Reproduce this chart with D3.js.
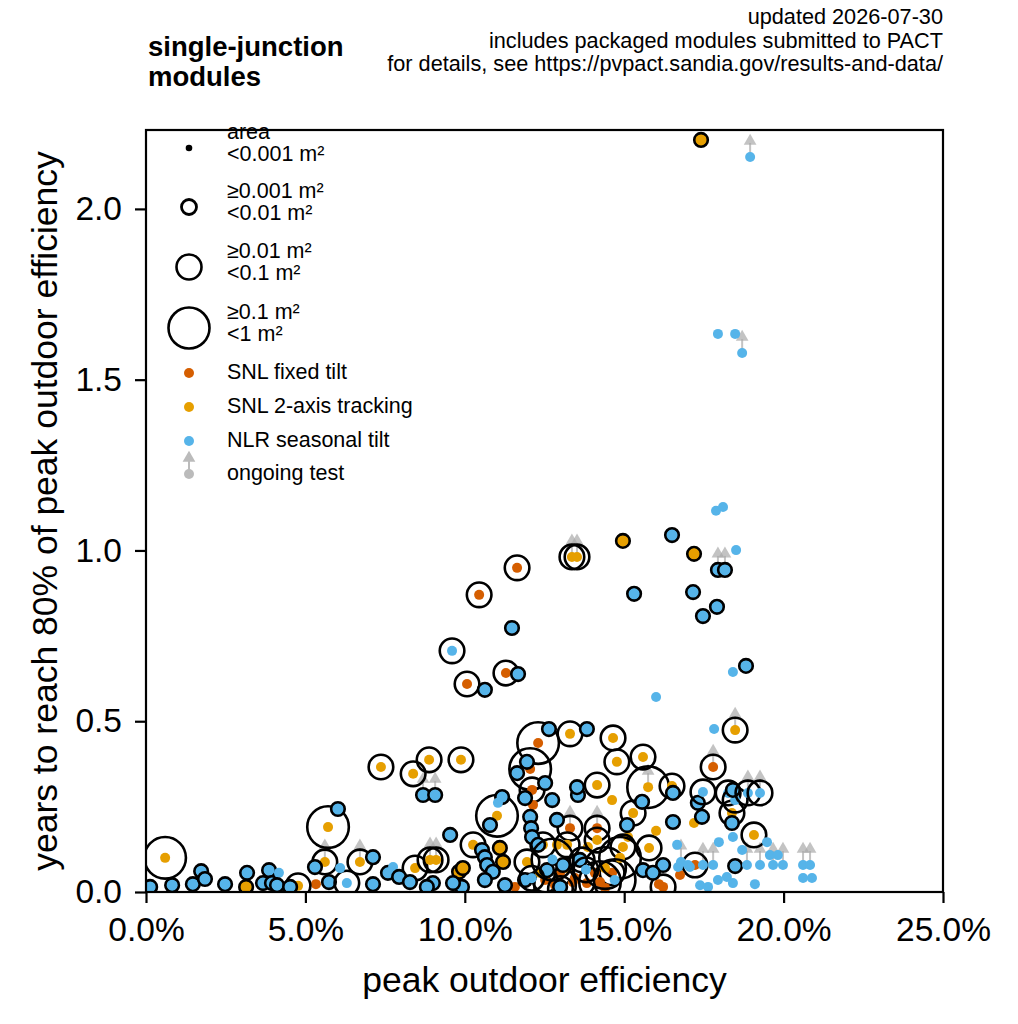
<!DOCTYPE html>
<html>
<head>
<meta charset="utf-8">
<script src="https://cdn.jsdelivr.net/npm/d3@7"></script>
<style>
  body { margin: 0; background: #fff; }
  text { font-family: "Liberation Sans", Arial, sans-serif; fill: #000; }
</style>
</head>
<body>
<script>
// sites and colours
const sites = ["SNL fixed tilt", "SNL 2-axis tracking", "NLR seasonal tilt"];
const siteColors = ["#D55E00", "#E69F00", "#56B4E9"];

// area classes for the ring legend
const areaLabels = [
  ["area", "<0.001 m²"],
  ["≥0.001 m²", "<0.01 m²"],
  ["≥0.01 m²", "<0.1 m²"],
  ["≥0.1 m²", "<1 m²"]
];

const xTicks = [0, 5, 10, 15, 20, 25];
const yTicks = [0, 0.5, 1.0, 1.5, 2.0];

const titleLines = ["single-junction", "modules"];
const notes = [
  "updated 2026-07-30",
  "includes packaged modules submitted to PACT",
  "for details, see https://pvpact.sandia.gov/results-and-data/"
];

// [peak efficiency %, years to 80%, area class, ongoing]
const fixedTilt = [
  [11.64, 0.949, 2, 0], [10.45, 0.870, 2, 0], [11.29, 0.641, 2, 0], [10.07, 0.609, 2, 0],
  [12.30, 0.436, 3, 0], [12.05, 0.360, 3, 0], [12.11, 0.299, 2, 0], [12.14, 0.255, 0, 0],
  [17.79, 0.366, 2, 1], [13.30, 0.187, 2, 1], [14.15, 0.187, 2, 1], [17.22, 0.079, 2, 0],
  [16.75, 0.050, 0, 0], [16.22, 0.015, 2, 0], [14.62, 0.056, 2, 0], [14.08, 0.056, 0, 0],
  [5.33, 0.023, 0, 0], [11.57, 0.015, 0, 0], [12.99, 0.056, 2, 0], [13.39, 0.029, 0, 0],
  [13.83, 0.026, 0, 0], [12.52, 0.035, 2, 0], [13.46, 0.041, 3, 0], [14.24, 0.029, 3, 0],
  [12.83, 0.020, 3, 0], [16.09, 0.023, 0, 0], [13.00, 0.010, 2, 0], [14.40, 0.012, 0, 0]
];

const tracking = [
  [17.41, 2.202, 1, 0], [14.96, 1.028, 1, 0], [17.19, 0.990, 1, 0], [13.36, 0.981, 2, 1],
  [13.52, 0.981, 2, 1], [13.30, 0.463, 2, 0], [14.65, 0.451, 2, 0], [14.77, 0.381, 2, 0],
  [15.59, 0.395, 2, 0], [18.48, 0.474, 2, 1], [7.37, 0.366, 2, 0], [8.38, 0.346, 2, 0],
  [8.88, 0.387, 2, 0], [9.88, 0.387, 2, 0], [0.60, 0.100, 3, 0], [5.71, 0.190, 3, 0],
  [3.14, 0.015, 1, 0], [4.77, 0.018, 2, 0], [5.61, 0.088, 2, 1], [6.71, 0.088, 2, 1],
  [8.44, 0.070, 2, 0], [8.91, 0.094, 2, 1], [9.10, 0.094, 2, 1], [9.82, 0.059, 1, 0],
  [10.26, 0.138, 2, 0], [9.94, 0.070, 1, 0], [11.01, 0.223, 3, 0], [11.10, 0.129, 1, 0],
  [11.20, 0.088, 1, 0], [12.45, 0.138, 2, 0], [12.89, 0.138, 0, 0], [13.21, 0.138, 2, 0],
  [13.86, 0.132, 0, 0], [14.15, 0.152, 2, 0], [14.15, 0.313, 2, 0], [14.62, 0.269, 0, 0],
  [15.28, 0.231, 2, 0], [15.12, 0.161, 0, 0], [14.96, 0.132, 2, 0], [15.78, 0.129, 2, 0],
  [16.00, 0.179, 0, 0], [17.19, 0.202, 0, 0], [15.75, 0.307, 3, 1], [16.50, 0.310, 2, 0],
  [18.38, 0.231, 2, 0], [19.07, 0.167, 2, 0], [13.21, 0.070, 0, 0], [12.36, 0.056, 0, 0],
  [14.40, 0.070, 3, 0], [14.87, 0.100, 3, 0], [11.95, 0.088, 2, 0], [13.68, 0.094, 2, 0]
];

const seasonal = [
  [18.95, 2.152, 0, 1], [17.94, 1.634, 0, 0], [18.48, 1.634, 0, 0], [18.70, 1.578, 0, 1],
  [17.88, 1.116, 0, 0], [18.10, 1.127, 0, 0], [16.50, 1.045, 1, 0], [18.51, 1.001, 0, 0],
  [17.94, 0.943, 1, 1], [18.16, 0.943, 1, 1], [17.16, 0.878, 1, 0], [17.91, 0.835, 1, 0],
  [17.47, 0.808, 1, 0], [15.31, 0.873, 1, 0], [18.82, 0.662, 1, 0], [18.41, 0.644, 0, 0],
  [16.00, 0.571, 0, 0], [17.82, 0.477, 0, 0], [11.48, 0.773, 1, 0], [9.60, 0.706, 2, 0],
  [11.67, 0.638, 1, 0], [10.63, 0.592, 1, 0], [12.64, 0.477, 1, 0], [13.83, 0.477, 1, 0],
  [8.69, 0.284, 1, 1], [9.07, 0.284, 1, 1], [9.54, 0.167, 1, 0], [6.02, 0.243, 1, 0],
  [0.13, 0.015, 1, 0], [0.82, 0.020, 1, 0], [1.47, 0.023, 1, 0], [1.73, 0.061, 1, 0],
  [1.85, 0.038, 1, 0], [2.48, 0.023, 1, 0], [3.17, 0.056, 1, 0], [3.67, 0.026, 1, 0],
  [3.86, 0.064, 1, 0], [3.95, 0.026, 1, 0], [4.17, 0.056, 0, 0], [4.11, 0.020, 1, 0],
  [4.52, 0.015, 1, 0], [5.74, 0.029, 1, 0], [6.30, 0.026, 2, 0], [5.30, 0.073, 1, 0],
  [6.09, 0.070, 0, 0], [7.12, 0.102, 1, 0], [7.12, 0.023, 1, 0], [7.59, 0.056, 1, 0],
  [7.75, 0.073, 0, 0], [7.94, 0.044, 1, 0], [8.28, 0.029, 1, 0], [9.91, 0.015, 1, 0],
  [9.00, 0.026, 1, 0], [8.81, 0.015, 1, 0], [9.63, 0.026, 1, 0], [10.54, 0.123, 1, 0],
  [10.63, 0.102, 1, 0], [10.70, 0.079, 1, 0], [10.88, 0.059, 1, 0], [10.63, 0.035, 1, 0],
  [10.79, 0.196, 1, 0], [11.17, 0.278, 1, 0], [11.04, 0.261, 0, 0], [11.64, 0.348, 1, 0],
  [11.95, 0.381, 1, 0], [12.52, 0.319, 1, 0], [11.89, 0.275, 1, 0], [12.74, 0.269, 1, 0],
  [12.05, 0.220, 1, 0], [12.08, 0.187, 1, 0], [12.11, 0.161, 1, 0], [12.30, 0.138, 1, 0],
  [13.55, 0.284, 1, 0], [13.52, 0.307, 1, 0], [12.89, 0.211, 1, 0], [11.89, 0.035, 1, 0],
  [12.58, 0.064, 1, 0], [13.08, 0.079, 1, 0], [13.61, 0.094, 1, 0], [12.99, 0.015, 1, 0],
  [11.26, 0.020, 1, 0], [12.75, 0.095, 3, 0], [13.80, 0.065, 2, 0], [12.10, 0.040, 2, 0],
  [14.70, 0.035, 3, 0], [15.56, 0.264, 1, 0], [16.53, 0.290, 1, 0], [15.09, 0.196, 1, 0],
  [16.53, 0.205, 1, 0], [17.44, 0.220, 1, 0], [17.31, 0.261, 1, 0], [17.47, 0.293, 2, 0],
  [16.66, 0.138, 0, 0], [16.78, 0.088, 0, 1], [16.22, 0.079, 1, 0], [15.59, 0.064, 1, 0],
  [15.90, 0.056, 1, 0], [16.69, 0.073, 0, 0], [17.06, 0.073, 0, 0], [17.38, 0.020, 0, 0],
  [17.63, 0.015, 0, 0], [17.94, 0.035, 0, 0], [18.22, 0.044, 0, 0], [18.41, 0.026, 0, 0],
  [19.10, 0.023, 0, 0], [18.26, 0.290, 2, 0], [18.48, 0.269, 2, 0], [18.41, 0.299, 1, 0],
  [18.88, 0.290, 2, 1], [19.26, 0.290, 2, 1], [18.38, 0.202, 1, 0], [19.48, 0.146, 0, 0],
  [18.41, 0.161, 0, 0], [17.97, 0.146, 0, 0], [18.70, 0.123, 0, 0], [18.48, 0.076, 1, 0],
  [17.00, 0.079, 0, 0], [17.47, 0.079, 0, 1], [17.79, 0.079, 0, 1], [18.85, 0.079, 0, 1],
  [19.26, 0.079, 0, 1], [19.57, 0.108, 0, 0], [19.67, 0.079, 0, 1], [19.98, 0.079, 0, 1],
  [19.82, 0.108, 0, 0], [20.61, 0.079, 0, 1], [20.83, 0.079, 0, 1], [20.61, 0.041, 0, 0],
  [20.89, 0.041, 0, 0]
];

const W = 1018, H = 1024;
const plot = { left: 146, top: 130, right: 943, bottom: 892 };

const svg = d3.select("body").append("svg")
  .attr("width", W).attr("height", H);

const x = d3.scaleLinear().domain([0, 25]).range([plot.left, plot.right]);
const y = d3.scaleLinear().domain([0, 2.231]).range([plot.bottom, plot.top]);

// ring radius per area class (0 = plain dot)
const ringR = [0, 6.8, 12.3, 20.8];
const dotR = 5;

svg.append("clipPath").attr("id", "clip")
  .append("rect")
  .attr("x", plot.left).attr("y", plot.top)
  .attr("width", plot.right - plot.left).attr("height", plot.bottom - plot.top);

const pts = [];
[fixedTilt, tracking, seasonal].forEach((arr, si) => {
  arr.forEach(d => pts.push({ eff: d[0], yrs: d[1], area: d[2], ongoing: d[3], site: si }));
});

const gPlot = svg.append("g").attr("clip-path", "url(#clip)");

// ongoing arrows
const arrow = d3.symbol().type(d3.symbolTriangle).size(70);
const gArr = gPlot.append("g");
pts.filter(d => d.ongoing).forEach(d => {
  const px = x(d.eff), py = y(d.yrs);
  gArr.append("line")
    .attr("x1", px).attr("x2", px).attr("y1", py).attr("y2", py - 14)
    .attr("stroke", "#aaa").attr("stroke-width", 2).attr("opacity", 0.7);
  gArr.append("path")
    .attr("d", arrow)
    .attr("transform", `translate(${px},${py - 16})`)
    .attr("fill", "#aaa").attr("opacity", 0.7);
});

// points: ring then coloured dot
const gPts = gPlot.append("g");
pts.forEach(d => {
  const px = x(d.eff), py = y(d.yrs);
  if (d.area > 0) {
    gPts.append("circle")
      .attr("cx", px).attr("cy", py).attr("r", ringR[d.area])
      .attr("fill", d.area === 1 ? siteColors[d.site] : "none")
      .attr("stroke", "#000").attr("stroke-width", 2.6);
  }
  gPts.append("circle")
    .attr("cx", px).attr("cy", py).attr("r", dotR)
    .attr("fill", siteColors[d.site]);
});

// frame
svg.append("rect")
  .attr("x", plot.left).attr("y", plot.top)
  .attr("width", plot.right - plot.left).attr("height", plot.bottom - plot.top)
  .attr("fill", "none").attr("stroke", "#000").attr("stroke-width", 2.2);

// axes
const xAxis = svg.append("g")
  .attr("transform", `translate(0,${plot.bottom})`)
  .call(d3.axisBottom(x).tickValues(xTicks).tickFormat(d => d.toFixed(1) + "%")
    .tickSize(11).tickPadding(14));
const yAxis = svg.append("g")
  .attr("transform", `translate(${plot.left},0)`)
  .call(d3.axisLeft(y).tickValues(yTicks).tickFormat(d3.format(".1f"))
    .tickSize(11).tickPadding(13));
[xAxis, yAxis].forEach(a => {
  a.select(".domain").remove();
  a.selectAll(".tick line").attr("stroke", "#000").attr("stroke-width", 2.2);
  a.selectAll(".tick text")
    .attr("font-family", "Liberation Sans, Arial, sans-serif")
    .attr("font-size", 33.5).attr("fill", "#000");
});

// axis labels
svg.append("text")
  .attr("x", (plot.left + plot.right) / 2).attr("y", 992)
  .attr("text-anchor", "middle").attr("font-size", 35.5)
  .text("peak outdoor efficiency");
svg.append("text")
  .attr("transform", `translate(57,${(plot.top + plot.bottom) / 2}) rotate(-90)`)
  .attr("text-anchor", "middle").attr("font-size", 35.5)
  .text("years to reach 80% of peak outdoor efficiency");

// title and notes
svg.append("text")
  .attr("font-size", 27.5).attr("font-weight", "bold")
  .selectAll("tspan").data(titleLines).join("tspan")
  .attr("x", 148).attr("y", (d, i) => 56 + i * 30).text(d => d);
svg.append("text")
  .attr("text-anchor", "end").attr("font-size", 21.7)
  .selectAll("tspan").data(notes).join("tspan")
  .attr("x", plot.right).attr("y", (d, i) => 24 + i * 23.5).text(d => d);

// legend
const leg = svg.append("g");
const lx = 189, tx = 227, fs = 21.5;
const legRings = [
  { cy: 148, r: 3.3, fill: "#000", sw: 0 },
  { cy: 207, r: 7.5, fill: "none", sw: 2.8 },
  { cy: 267, r: 12.5, fill: "none", sw: 2.6 },
  { cy: 328, r: 20.5, fill: "none", sw: 2.6 }
];
legRings.forEach((o, i) => {
  leg.append("text").attr("x", tx).attr("y", o.cy - 15).attr("font-size", fs)
    .attr("dominant-baseline", "middle").text(areaLabels[i][0]);
  leg.append("text").attr("x", tx).attr("y", o.cy + 7).attr("font-size", fs)
    .attr("dominant-baseline", "middle").text(areaLabels[i][1]);
  leg.append("circle").attr("cx", lx).attr("cy", o.cy).attr("r", o.r)
    .attr("fill", o.fill).attr("stroke", o.sw ? "#000" : "none").attr("stroke-width", o.sw);
});
sites.forEach((s, i) => {
  const cy = 373 + i * 34;
  leg.append("circle").attr("cx", lx).attr("cy", cy).attr("r", dotR).attr("fill", siteColors[i]);
  leg.append("text").attr("x", tx).attr("y", cy).attr("font-size", fs)
    .attr("dominant-baseline", "middle").text(s);
});
{
  const cy = 474;
  leg.append("line").attr("x1", lx).attr("x2", lx).attr("y1", cy).attr("y2", cy - 14)
    .attr("stroke", "#bbb").attr("stroke-width", 2);
  leg.append("path").attr("d", arrow).attr("transform", `translate(${lx},${cy - 16})`)
    .attr("fill", "#bbb");
  leg.append("circle").attr("cx", lx).attr("cy", cy).attr("r", dotR).attr("fill", "#bbb");
  leg.append("text").attr("x", tx).attr("y", cy).attr("font-size", fs)
    .attr("dominant-baseline", "middle").text("ongoing test");
}
</script>
</body>
</html>
